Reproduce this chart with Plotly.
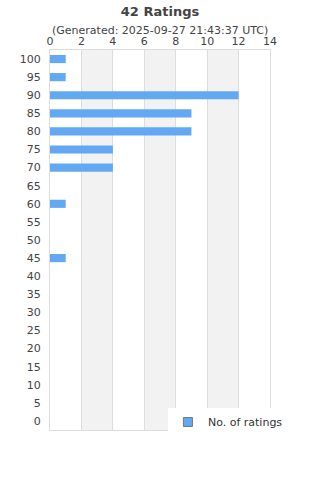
import plotly.graph_objects as go

categories = [str(v) for v in range(0, 101, 5)]
rated_scores = ["100", "95", "90", "85", "80", "75", "70", "60", "45"]
rating_counts = [1, 1, 12, 9, 9, 4, 4, 1, 1]
x_ticks = [0, 2, 4, 6, 8, 10, 12, 14]

title_text = "42 Ratings"
subtitle_text = "(Generated: 2025-09-27 21:43:37 UTC)"
series_name = "No. of ratings"

FONT = "DejaVu Sans"
TXT = "#444444"
BAR = "#62a8f3"

fig = go.Figure()
fig.add_trace(go.Bar(
    x=rating_counts, y=rated_scores, orientation="h", name=series_name,
    marker=dict(color=BAR, line=dict(width=0)), width=0.45,
    showlegend=False,
))
# legend entry with a small square swatch
fig.add_trace(go.Scatter(
    x=[None], y=[None], mode="markers", name=series_name,
    marker=dict(symbol="square", size=9, color=BAR, line=dict(color="#777777", width=1)),
    showlegend=True, hoverinfo="skip",
))

shapes = []
for i in range(len(x_ticks) - 1):
    if i % 2 == 1:
        shapes.append(dict(type="rect", xref="x", yref="paper",
                           x0=x_ticks[i], x1=x_ticks[i + 1], y0=0, y1=1,
                           fillcolor="#f2f2f2", line=dict(width=0), layer="below"))

fig.update_layout(
    width=320, height=480,
    margin=dict(l=50, r=50, t=50, b=50),
    paper_bgcolor="white", plot_bgcolor="white",
    font=dict(family=FONT, color=TXT, size=11),
    title=dict(text="<b>" + title_text + "</b>", x=0.5, xanchor="center",
               y=1 - 11 / 480, yanchor="middle", font=dict(size=13, color=TXT)),
    shapes=shapes,
    annotations=[dict(text=subtitle_text, xref="paper", yref="paper",
                      x=0.5, xanchor="center", y=1 + 20 / 380, yanchor="middle",
                      showarrow=False, font=dict(size=11, color=TXT))],
    xaxis=dict(side="top", range=[0, 14], tickvals=x_ticks, ticks="",
               showgrid=True, gridcolor="#dddddd", gridwidth=1,
               showline=True, linecolor="#dddddd", mirror=True, zeroline=False,
               tickfont=dict(size=11, color=TXT), fixedrange=True),
    yaxis=dict(type="category", categoryorder="array", categoryarray=categories,
               range=[-0.5, len(categories) - 0.5], ticks="", showgrid=False,
               showline=True, linecolor="#dddddd", mirror=True,
               tickfont=dict(size=11, color=TXT), ticklabelstandoff=6),
    legend=dict(orientation="h", x=0.536, xanchor="left", y=8 / 380, yanchor="middle",
                bgcolor="white", font=dict(size=11, color="#333333"),
                itemwidth=30),
)
fig.write_html("out.html")
